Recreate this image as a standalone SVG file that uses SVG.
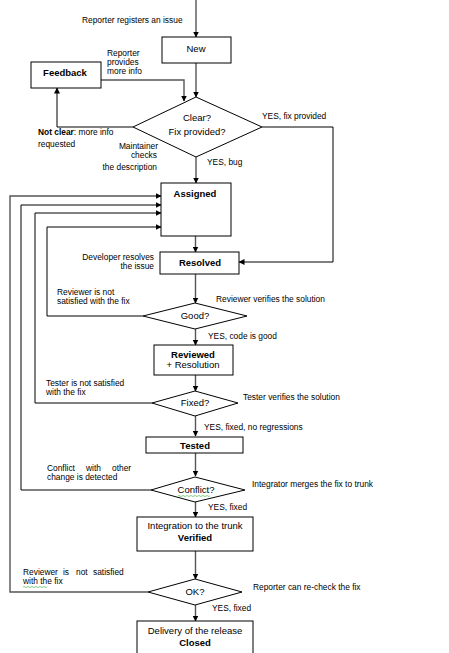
<svg xmlns="http://www.w3.org/2000/svg" width="449" height="653" viewBox="0 0 449 653">
<defs>
<marker id="ah" markerWidth="6" markerHeight="6" refX="5.5" refY="3" orient="auto" markerUnits="userSpaceOnUse">
<path d="M0,0 L6,3 L0,6 Z" fill="#000"/>
</marker>
<style>
.box{fill:#fff;stroke:#000;stroke-width:1}
.c{fill:none;stroke:#000;stroke-width:1}
.g{fill:none;stroke:#555;stroke-width:1.4}
text{font-family:"Liberation Sans",Arial,sans-serif;fill:#000}
.t{font-size:9.5px}
.l{font-size:8.4px}
.m{text-anchor:middle}
.e{text-anchor:end}
.b{font-weight:bold}
.sq{fill:none;stroke:#3a3;stroke-width:0.6}
</style>
</defs>
<rect width="449" height="653" fill="#fff"/>
<g id="connectors">
<line class="g" x1="196" y1="0" x2="196" y2="37" marker-end="url(#ah)"/>
<line class="g" x1="196" y1="63" x2="196" y2="97" marker-end="url(#ah)"/>
<polyline class="g" points="101,80 184,80 184,101" marker-end="url(#ah)"/>
<polyline class="c" points="133,127 57,127 57,88" marker-end="url(#ah)"/>
<polyline class="c" points="262,127 333,127 333,262 239,262" marker-end="url(#ah)"/>
<line class="g" x1="196" y1="157" x2="196" y2="183" marker-end="url(#ah)"/>
<line class="g" x1="195.5" y1="236" x2="195.5" y2="252" marker-end="url(#ah)"/>
<line class="g" x1="195.5" y1="274" x2="195.5" y2="303" marker-end="url(#ah)"/>
<polyline class="c" points="143,316 47,316 47,227 161,227" marker-end="url(#ah)"/>
<line class="g" x1="195.5" y1="329" x2="195.5" y2="345" marker-end="url(#ah)"/>
<line class="g" x1="195.5" y1="375" x2="195.5" y2="391" marker-end="url(#ah)"/>
<polyline class="c" points="152,403 35,403 35,213 161,213" marker-end="url(#ah)"/>
<line class="g" x1="195.5" y1="416" x2="195.5" y2="436" marker-end="url(#ah)"/>
<line class="g" x1="195.5" y1="453" x2="195.5" y2="476" marker-end="url(#ah)"/>
<polyline class="c" points="151,490 21,490 21,205 161,205" marker-end="url(#ah)"/>
<line class="g" x1="195.5" y1="502" x2="195.5" y2="517" marker-end="url(#ah)"/>
<line class="g" x1="195.5" y1="551" x2="195.5" y2="579" marker-end="url(#ah)"/>
<polyline class="g" points="148,592 10,592 10,196 161,196" marker-end="url(#ah)"/>
<line class="g" x1="195.5" y1="605" x2="195.5" y2="621" marker-end="url(#ah)"/>
</g>
<g id="new"><rect class="box" x="162" y="37" width="69" height="26"/><text class="t m" x="196" y="52">New</text></g>
<g id="feedback"><rect class="box" x="31" y="62" width="70" height="26"/><text class="t m b" x="65" y="76">Feedback</text></g>
<g id="clear"><polygon class="box" points="196,97 262,127 196,157 133,127"/><text class="t m" x="197" y="121">Clear?</text><text class="t m" x="197" y="135">Fix provided?</text></g>
<g id="assigned"><rect class="box" x="161" y="183" width="70" height="53"/><text class="t m b" x="195" y="197">Assigned</text></g>
<g id="resolved"><rect class="box" x="160" y="252" width="79" height="22"/><text class="t m b" x="200" y="266">Resolved</text></g>
<g id="good"><polygon class="box" points="195,303 247,316 195,329 143,316"/><text class="t m" x="195" y="319">Good?</text></g>
<g id="reviewed"><rect class="box" x="154" y="345" width="79" height="30"/><text class="t m b" x="193" y="358">Reviewed</text><text class="t m" x="193" y="368">+ Resolution</text></g>
<g id="fixed"><polygon class="box" points="195,391 238,403 195,416 152,403"/><text class="t m" x="195" y="406">Fixed?</text></g>
<g id="tested"><rect class="box" x="146" y="437" width="97" height="16"/><text class="t m b" x="195" y="449">Tested</text></g>
<g id="conflict"><polygon class="box" points="195,477 245,490 195,502 151,490"/><text class="t m" x="196" y="493">Conflict?</text><path class="sq" d="M178,496 q1,-1 2,0 t2,0 t2,0 t2,0 t2,0 t2,0 t2,0 t2,0 t2,0 t2,0 t2,0 t2,0 t2,0 t2,0 t2,0 t2,0"/></g>
<g id="verified"><rect class="box" x="137" y="517" width="116" height="34"/><text class="t m" x="195" y="529">Integration to the trunk</text><text class="t m b" x="195" y="541">Verified</text></g>
<g id="ok"><polygon class="box" points="195,579 242,592 195,605 148,592"/><text class="t m" x="195" y="595">OK?</text></g>
<g id="closed"><rect class="box" x="137" y="621" width="116" height="34"/><text class="t m" x="195" y="634">Delivery of the release</text><text class="t m b" x="195" y="646">Closed</text></g>
<g id="labels">
<text class="l" x="82" y="23">Reporter registers an issue</text>
<text class="l" x="107" y="56">Reporter</text>
<text class="l" x="107" y="65">provides</text>
<text class="l" x="107" y="74">more info</text>
<text class="l" x="38" y="135"><tspan font-weight="bold">Not clear</tspan>: more info</text>
<text class="l" x="38" y="147">requested</text>
<text class="l e" x="158" y="149">Maintainer</text>
<text class="l e" x="157" y="158">checks</text>
<text class="l e" x="157" y="170">the description</text>
<text class="l" x="262" y="119">YES, fix provided</text>
<text class="l" x="207" y="165">YES, bug</text>
<text class="l e" x="154" y="260">Developer resolves</text>
<text class="l e" x="154" y="269">the issue</text>
<text class="l" x="57" y="295">Reviewer is not</text>
<text class="l" x="57" y="304">satisfied with the fix</text>
<text class="l" x="216" y="302">Reviewer verifies the solution</text>
<text class="l" x="208" y="339">YES, code is good</text>
<text class="l" x="46" y="386">Tester is not satisfied</text>
<text class="l" x="46" y="395">with the fix</text>
<text class="l" x="243" y="400">Tester verifies the solution</text>
<text class="l" x="204" y="430">YES, fixed, no regressions</text>
<text class="l" y="471"><tspan x="47">Conflict</tspan> <tspan x="86">with</tspan> <tspan x="112">other</tspan></text>
<text class="l" x="47" y="480">change is detected</text>
<text class="l" x="252" y="487">Integrator merges the fix to trunk</text>
<text class="l" x="208" y="510">YES, fixed</text>
<text class="l" y="575"><tspan x="23">Reviewer</tspan> <tspan x="63">is</tspan> <tspan x="76">not</tspan> <tspan x="93">satisfied</tspan></text>
<text class="l" x="23" y="584">with the fix</text>
<path class="sq" d="M23,587 q1,-1 2,0 t2,0 t2,0 t2,0 t2,0 t2,0 t2,0 t2,0 t2,0 t2,0 t2,0 t2,0"/>
<text class="l" x="253" y="590">Reporter can re-check the fix</text>
<text class="l" x="212" y="611">YES, fixed</text>
</g>
</svg>
